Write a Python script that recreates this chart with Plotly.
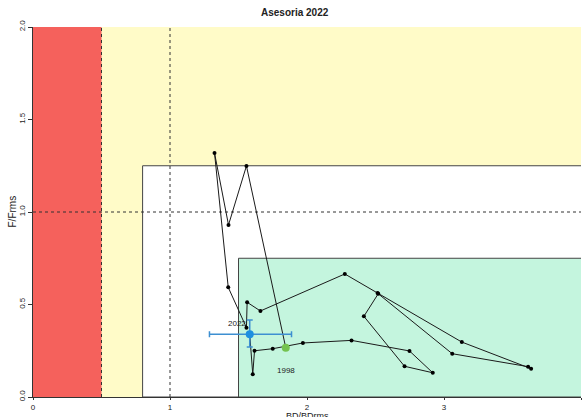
import plotly.graph_objects as go

# trajectory, 1998 -> 2022
years = list(range(1998, 2023))
bd = [1.845, 1.558, 1.427, 1.325, 1.425, 1.558, 1.563, 1.660, 2.276, 2.515,
      3.130, 3.636, 3.614, 3.060, 2.520, 2.415, 2.712, 2.918, 2.748, 2.325,
      1.970, 1.750, 1.617, 1.604, 1.582]
f = [0.266, 1.249, 0.930, 1.319, 0.593, 0.375, 0.512, 0.465, 0.665, 0.562,
     0.297, 0.153, 0.164, 0.234, 0.558, 0.436, 0.166, 0.131, 0.249, 0.306,
     0.292, 0.261, 0.250, 0.123, 0.339]

# last year with its interval
bd_last, f_last = 1.582, 0.339
bd_lo, bd_hi = 1.288, 1.887
f_lo, f_hi = 0.270, 0.416

font = "Liberation Sans, Arial, sans-serif"

fig = go.Figure()

# zones
def rect(x0, y0, x1, y1, fill, line=None):
    fig.add_shape(type="rect", xref="x", yref="y", x0=x0, y0=y0, x1=x1, y1=y1,
                  fillcolor=fill, layer="below",
                  line=dict(color=line or fill, width=1 if line else 0))

rect(0, 0, 4, 2, "#fffbc8")
rect(0, 0, 0.5, 2, "#f5615c")
rect(0.8, 0, 4.2, 1.25, "#ffffff", "#444444")
rect(1.5, 0, 4.2, 0.75, "#c4f5de", "#444444")

# reference lines
for xv in [0.5, 1]:
    fig.add_shape(type="line", xref="x", yref="y", x0=xv, x1=xv, y0=0, y1=2,
                  layer="below", line=dict(color="#333333", width=1, dash="3px,3px"))
fig.add_shape(type="line", xref="x", yref="y", x0=0, x1=4, y0=1, y1=1,
              layer="below", line=dict(color="#333333", width=1, dash="3px,3px"))

fig.add_trace(go.Scatter(x=bd, y=f, mode="lines+markers",
                         line=dict(color="#1a1a1a", width=1),
                         marker=dict(color="#000000", size=4),
                         text=years, showlegend=False))

fig.add_trace(go.Scatter(x=[bd[0]], y=[f[0]], mode="markers",
                         marker=dict(color="#74c24f", size=8), showlegend=False))

fig.add_trace(go.Scatter(
    x=[bd_last], y=[f_last], mode="markers",
    marker=dict(color="#1e8fe0", size=8),
    error_x=dict(type="data", symmetric=False, array=[bd_hi - bd_last],
                 arrayminus=[bd_last - bd_lo], color="#3d8fd1", thickness=1.5, width=3),
    error_y=dict(type="data", symmetric=False, array=[f_hi - f_last],
                 arrayminus=[f_last - f_lo], color="#3d8fd1", thickness=1.5, width=3),
    showlegend=False))

fig.add_annotation(x=bd[0], y=f[0], text=str(years[0]), showarrow=False,
                   yshift=-23, font=dict(family=font, size=8, color="#222222"))
fig.add_annotation(x=bd_last, y=f_last, text=str(years[-1]), showarrow=False,
                   xshift=-13, yshift=11, font=dict(family=font, size=8, color="#222222"))

# titles
fig.add_annotation(xref="paper", yref="paper", x=0.478, y=1, yanchor="bottom",
                   yshift=7, text="<b>Asesoria 2022</b>", showarrow=False,
                   font=dict(family=font, size=10, color="#222222"))
fig.add_annotation(xref="paper", yref="paper", x=0.5, y=0, yanchor="top",
                   yshift=-12, text="BD/BDrms", showarrow=False,
                   font=dict(family=font, size=9, color="#222222"))
fig.add_annotation(xref="paper", yref="paper", x=0, y=0.5, xanchor="right",
                   xshift=-14, textangle=-90, text="F/Frms", showarrow=False,
                   font=dict(family=font, size=10, color="#222222"))

fig.update_xaxes(range=[0, 4], tickvals=[0, 1, 2, 3, 4], ticks="outside",
                 ticklen=2, tickcolor="#333333", showline=True, linecolor="#333333",
                 showgrid=False, zeroline=False, automargin=False,
                 tickfont=dict(family=font, size=8, color="#222222"))
fig.update_yaxes(range=[0, 2], tickvals=[0, 0.5, 1, 1.5, 2],
                 ticktext=["0.0", "0.5", "1.0", "1.5", "2.0"], tickangle=-90,
                 ticks="outside", ticklen=4, tickcolor="#333333", showline=True,
                 linecolor="#333333", showgrid=False, zeroline=False, automargin=False,
                 tickfont=dict(family=font, size=8, color="#222222"))

fig.update_layout(width=582, height=417,
                  margin=dict(l=33, r=1, t=27, b=20),
                  paper_bgcolor="white", plot_bgcolor="#fffbc8",
                  font=dict(family=font))

fig.write_html("out.html", config={"displayModeBar": False},
               post_script="document.body.style.margin='0';")
